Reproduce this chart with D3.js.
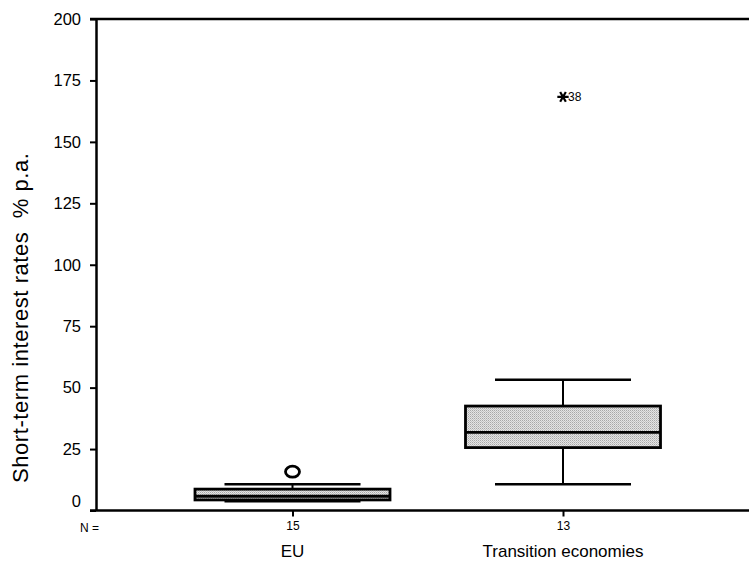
<!DOCTYPE html>
<html>
<head>
<meta charset="utf-8">
<script src="https://cdn.jsdelivr.net/npm/d3@7"></script>
<style>
  html, body { margin: 0; padding: 0; background: #fff; }
  svg { display: block; }
  text { font-family: "Liberation Sans", Arial, Helvetica, sans-serif; fill: #000; }
</style>
</head>
<body>
<svg id="chart" width="749" height="561"></svg>
<script>
// Box-plot summary per group
const categories = ["EU", "Transition economies"];
const counts = [15, 13];
const whiskerLow = [3.8, 10.7];
const q1 = [4.3, 25.6];
const median = [5.8, 31.8];
const q3 = [8.7, 42.5];
const whiskerHigh = [10.7, 53.2];

// Extreme values drawn individually
const outlierGroup = ["EU", "Transition economies"];
const outlierValue = [15.8, 168.3];
const outlierShape = ["circle", "star"];
const outlierLabel = ["", "38"];

const yTicks = [0, 25, 50, 75, 100, 125, 150, 175, 200];

const svg = d3.select("#chart");
const W = 749, H = 561;
const plotLeft = 96, plotTop = 19, plotBottom = 510.5;

const y = d3.scaleLinear().domain([0, 200]).range([plotBottom, plotTop]);
const x = d3.scalePoint().domain(categories).range([292.5, 563]);
const boxW = 195, capW = 136;

// stippled grey fill for the boxes
const defs = svg.append("defs");
const pat = defs.append("pattern")
  .attr("id", "stipple").attr("patternUnits", "userSpaceOnUse")
  .attr("width", 2).attr("height", 2);
pat.append("rect").attr("width", 2).attr("height", 2).attr("fill", "#e4e4e4");
pat.append("rect").attr("width", 1).attr("height", 1).attr("fill", "#a8a8a8");
pat.append("rect").attr("x", 1).attr("y", 1).attr("width", 1).attr("height", 1).attr("fill", "#c4c4c4");

// y axis
const yAxis = svg.append("g")
  .attr("transform", `translate(${plotLeft},0)`)
  .call(d3.axisLeft(y).tickValues(yTicks).tickSize(6).tickPadding(9).tickSizeOuter(0));
yAxis.select(".domain").attr("stroke", "#000").attr("stroke-width", 2.5);
yAxis.selectAll(".tick line").attr("stroke", "#000").attr("stroke-width", 2);
yAxis.selectAll(".tick text")
  .attr("font-size", 16.5)
  .attr("font-family", "Liberation Sans, Arial, sans-serif")
  .attr("dy", d => d === 0 ? "-0.25em" : "0.32em");

// top frame line
svg.append("line")
  .attr("x1", plotLeft - 6).attr("x2", W)
  .attr("y1", y(200)).attr("y2", y(200))
  .attr("stroke", "#000").attr("stroke-width", 2.5);

// x axis
const xAxis = svg.append("g")
  .attr("transform", `translate(0,${plotBottom})`)
  .call(d3.axisBottom(x).tickSize(6).tickFormat((d, i) => counts[i]).tickPadding(5).tickSizeOuter(0));
xAxis.select(".domain").attr("d", `M${plotLeft - 6},0H${W}`).attr("stroke", "#000").attr("stroke-width", 2.5);
xAxis.selectAll(".tick line").attr("stroke", "#000").attr("stroke-width", 2);
xAxis.selectAll(".tick text")
  .attr("font-size", 12)
  .attr("font-family", "Liberation Sans, Arial, sans-serif");

svg.append("text")
  .attr("x", 80).attr("y", 532)
  .attr("font-size", 12)
  .text("N =");

// category names
svg.selectAll(".cat")
  .data(categories)
  .join("text")
  .attr("class", "cat")
  .attr("x", d => x(d))
  .attr("y", 557)
  .attr("text-anchor", "middle")
  .attr("font-size", 17)
  .text(d => d);

// y title
svg.append("text")
  .attr("transform", `translate(28,318) rotate(-90)`)
  .attr("text-anchor", "middle")
  .attr("font-size", 22)
  .attr("xml:space", "preserve")
  .style("white-space", "pre")
  .attr("textLength", 330)
  .attr("lengthAdjust", "spacing")
  .text("Short-term interest rates  % p.a.");

// boxes
const g = svg.append("g");
categories.forEach((c, i) => {
  const cx = x(c);
  // whisker stems
  g.append("line").attr("x1", cx).attr("x2", cx)
    .attr("y1", y(q3[i])).attr("y2", y(whiskerHigh[i]))
    .attr("stroke", "#000").attr("stroke-width", 2);
  g.append("line").attr("x1", cx).attr("x2", cx)
    .attr("y1", y(q1[i])).attr("y2", y(whiskerLow[i]))
    .attr("stroke", "#000").attr("stroke-width", 2);
  // caps
  [whiskerHigh[i], whiskerLow[i]].forEach(v => {
    g.append("line")
      .attr("x1", cx - capW / 2).attr("x2", cx + capW / 2)
      .attr("y1", y(v)).attr("y2", y(v))
      .attr("stroke", "#000").attr("stroke-width", 2.5);
  });
  // box
  g.append("rect")
    .attr("x", cx - boxW / 2).attr("width", boxW)
    .attr("y", y(q3[i])).attr("height", y(q1[i]) - y(q3[i]))
    .attr("fill", "url(#stipple)")
    .attr("stroke", "#000").attr("stroke-width", 2.8);
  // median
  g.append("line")
    .attr("x1", cx - boxW / 2).attr("x2", cx + boxW / 2)
    .attr("y1", y(median[i])).attr("y2", y(median[i]))
    .attr("stroke", "#000").attr("stroke-width", 2.8);
});

// outliers / extremes
outlierValue.forEach((v, i) => {
  const cx = x(outlierGroup[i]), cy = y(v);
  if (outlierShape[i] === "circle") {
    g.append("ellipse").attr("cx", cx).attr("cy", cy).attr("rx", 7).attr("ry", 5.5)
      .attr("fill", "none").attr("stroke", "#000").attr("stroke-width", 2.8);
  } else {
    g.append("path")
      .attr("d", d3.symbol(d3.symbolAsterisk, 90)())
      .attr("transform", `translate(${cx},${cy}) rotate(90)`)
      .attr("fill", "none").attr("stroke", "#000").attr("stroke-width", 2.2);
  }
  if (outlierLabel[i]) {
    g.append("text")
      .attr("x", cx + 5).attr("y", cy + 4.5)
      .attr("font-size", 12)
      .text(outlierLabel[i]);
  }
});
</script>
</body>
</html>
